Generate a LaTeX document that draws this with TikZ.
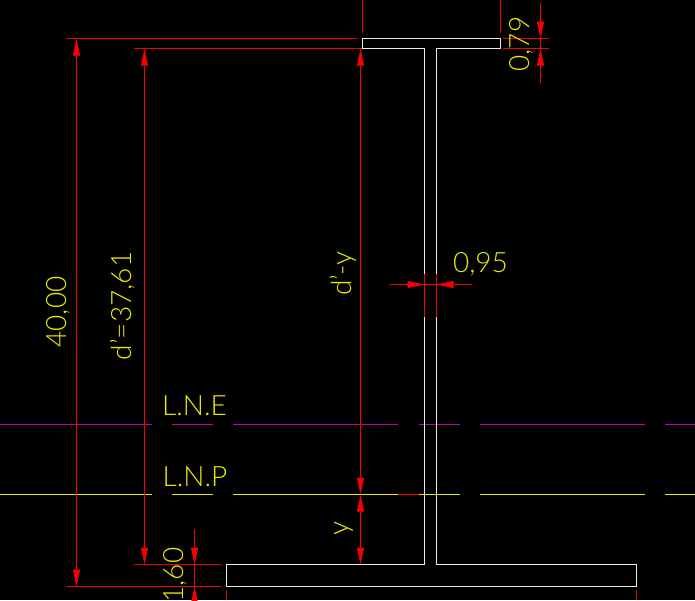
\documentclass[tikz,border=0pt]{standalone}
\usepackage{fontspec}
\setmainfont[UprightFont=* Light]{Lato}
\usetikzlibrary{arrows.meta}

\definecolor{dimred}{RGB}{245,0,0}
\definecolor{cadyellow}{RGB}{235,235,0}
\definecolor{cadpurple}{RGB}{190,0,190}

\begin{document}
\begin{tikzpicture}[%
    x=1pt,
    y=-1pt,
    >={Triangle[length=17pt,width=7pt]},
    dimline/.style={color=dimred,line width=1pt},
    beamline/.style={color=white!92!black,line width=1pt,line join=miter},
    axisP/.style={color=cadyellow,line width=1pt},
    axisE/.style={color=cadpurple,line width=1pt},
    label/.style={text=cadyellow,font=\fontsize{28}{28}\selectfont,inner sep=0pt},
    vlabel/.style={label,rotate=90}
    ]

    \useasboundingbox (0,0) rectangle (695,600);
    \clip (0,0) rectangle (695,600);
    \fill[black] (0,0) rectangle (695,600);

    % neutral axes
    \draw[axisE] (0,424.5) -- (152,424.5) (172,424.5) -- (213,424.5) (233,424.5) -- (398,424.5)
        (419,424.5) -- (460,424.5) (480,424.5) -- (645,424.5) (665,424.5) -- (695,424.5);
    \draw[axisP] (0,494.5) -- (152,494.5) (172,494.5) -- (213,494.5) (233,494.5) -- (398,494.5)
        (419,494.5) -- (460,494.5) (480,494.5) -- (645,494.5) (665,494.5) -- (695,494.5);
    \draw[dimline] (398,494.5) -- (419,494.5);

    % section
    \draw[beamline] (362.5,38.5) -- (500.5,38.5) -- (500.5,48.5) -- (436.5,48.5) -- (436.5,564.5)
        -- (636.5,564.5) -- (636.5,586.5) -- (226.5,586.5) -- (226.5,564.5) -- (424.5,564.5)
        -- (424.5,48.5) -- (362.5,48.5) -- cycle;

    % dimension points
    \coordinate (topL) at (76.5,38.5);
    \coordinate (botL) at (76.5,586.5);
    \coordinate (topD) at (144.5,48.5);
    \coordinate (botD) at (144.5,564.5);
    \coordinate (topY) at (360.5,48.5);
    \coordinate (midY) at (360.5,494.5);
    \coordinate (botY) at (360.5,564.5);
    \coordinate (webL) at (424.5,284.5);
    \coordinate (webR) at (436.5,284.5);
    \coordinate (webLout) at (389,284.5);
    \coordinate (webRout) at (472,284.5);
    \coordinate (flgT) at (540.5,38.5);
    \coordinate (flgB) at (540.5,48.5);
    \coordinate (flgTout) at (540.5,3);
    \coordinate (flgBout) at (540.5,83);
    \coordinate (lowT) at (194.5,564.5);
    \coordinate (lowB) at (194.5,586.5);
    \coordinate (lowTout) at (194.5,529);
    \coordinate (lowBout) at (194.5,620);

    % dimension lines
    \path[dimline,<->] (topL) edge (botL);
    \path[dimline,<->] (topD) edge (botD);
    \path[dimline,<->] (topY) edge (midY);
    \path[dimline,<->] (midY) edge (botY);
    \path[dimline,->] (webLout) edge (webL);
    \path[dimline,->] (webRout) edge (webR);
    \path[dimline] (webL) edge (webR);
    \path[dimline,->] (flgTout) edge (flgT);
    \path[dimline,->] (flgBout) edge (flgB);
    \path[dimline] (flgT) edge (flgB);
    \path[dimline,->] (lowTout) edge (lowT);
    \path[dimline,->] (lowBout) edge (lowB);
    \path[dimline] (lowT) edge (lowB);

    % extension lines
    \draw[dimline] (66,38.5) -- (358,38.5);
    \draw[dimline] (134,48.5) -- (362,48.5);
    \draw[dimline] (134,564.5) -- (221,564.5);
    \draw[dimline] (66,586.5) -- (221,586.5);
    \draw[dimline] (503,38.5) -- (549,38.5);
    \draw[dimline] (503,48.5) -- (549,48.5);
    \draw[dimline] (362.5,0) -- (362.5,33);
    \draw[dimline] (500.5,0) -- (500.5,33);
    \draw[dimline] (424.5,274) -- (424.5,317);
    \draw[dimline] (436.5,274) -- (436.5,317);
    \draw[dimline] (226.5,590) -- (226.5,600);
    \draw[dimline] (636.5,590) -- (636.5,600);

    % texts
    \node[vlabel] (total) at (58,312) {40,00};
    \node[vlabel] (depth) at (123,306) {d'=37,61};
    \node[vlabel] (upper) at (343,273.5) {d'-y};
    \node[vlabel] (lower) at (344,528) {y};
    \node[vlabel] (flange) at (521,44) {0,79};
    \node[vlabel] (botflange) at (175.5,575) {1,60};
    \node[label] (web) at (480.5,264.5) {0,95};
    \node[label] (lne) at (194.5,405.5) {L.N.E};
    \node[label] (lnp) at (195,477) {L.N.P};

\end{tikzpicture}
\end{document}
